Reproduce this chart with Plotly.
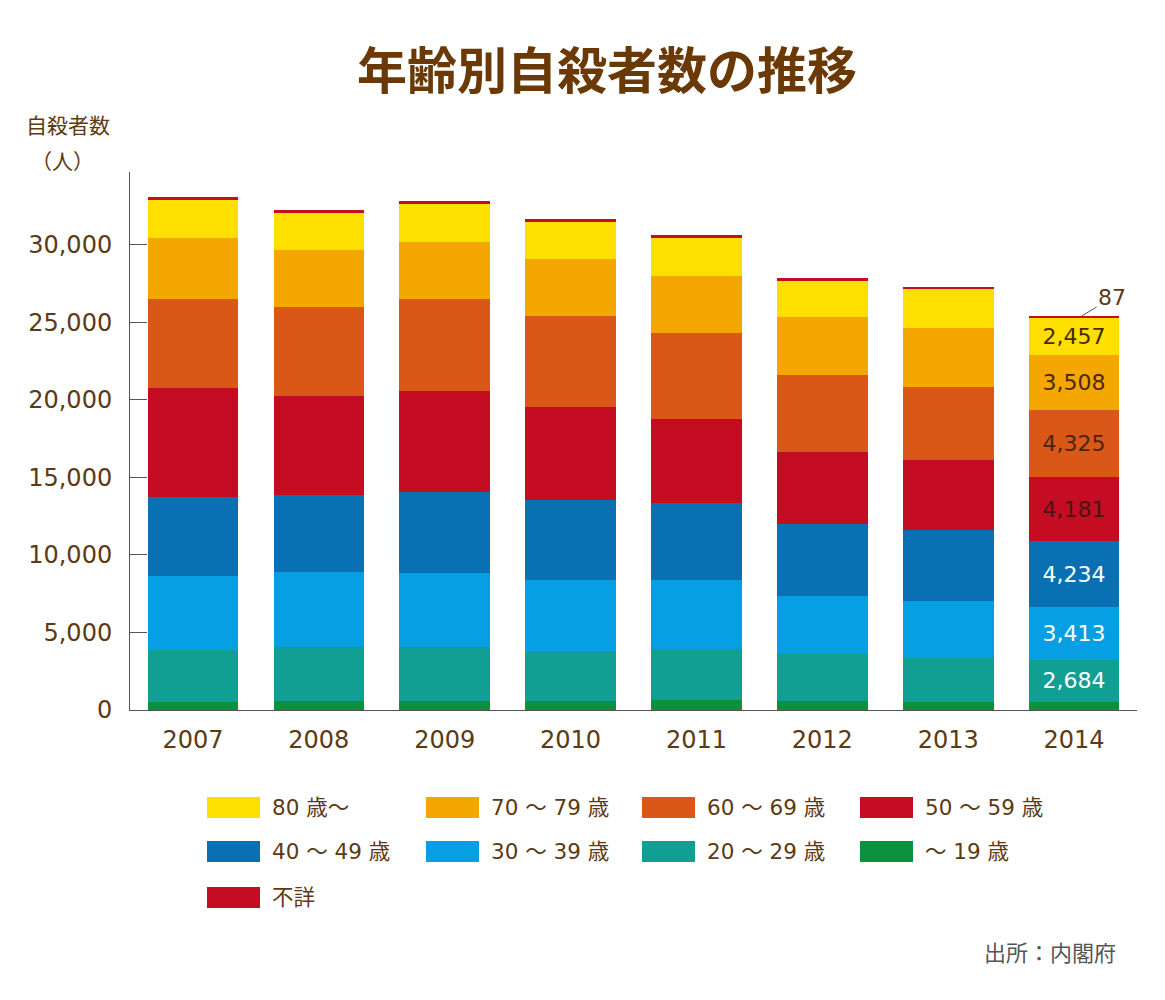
import plotly.graph_objects as go

years = ["2007", "2008", "2009", "2010", "2011", "2012", "2013", "2014"]

age_under19 = [548, 611, 565, 552, 622, 587, 547, 538]
age_20s = [3309, 3438, 3470, 3240, 3304, 3000, 2801, 2684]
age_30s = [4767, 4850, 4794, 4596, 4455, 3781, 3705, 3413]
age_40s = [5096, 4970, 5261, 5165, 4985, 4616, 4589, 4234]
age_50s = [7046, 6363, 6491, 5959, 5375, 4668, 4484, 4181]
age_60s = [5735, 5735, 5958, 5908, 5547, 4976, 4716, 4325]
age_70s = [3973, 3697, 3673, 3685, 3677, 3742, 3785, 3508]
age_80plus = [2422, 2361, 2411, 2385, 2451, 2323, 2580, 2457]
age_unknown = [197, 224, 222, 200, 235, 165, 76, 87]

# (name, values, colour, label colour, show 2014 label inside)
series = [
    ("～ 19 歳", age_under19, "#0B913E", "white", False),
    ("20 ～ 29 歳", age_20s, "#119E93", "white", True),
    ("30 ～ 39 歳", age_30s, "#079FE4", "white", True),
    ("40 ～ 49 歳", age_40s, "#0A70B4", "white", True),
    ("50 ～ 59 歳", age_50s, "#C40D22", "#4a1410", True),
    ("60 ～ 69 歳", age_60s, "#D95818", "#4a2410", True),
    ("70 ～ 79 歳", age_70s, "#F4A700", "#4a2a0a", True),
    ("80 歳～", age_80plus, "#FEDF00", "#4a2a0a", True),
    ("不詳", age_unknown, "#C40D22", "#4a1410", False),
]

legend_order = ["80 歳～", "70 ～ 79 歳", "60 ～ 69 歳", "50 ～ 59 歳",
                "40 ～ 49 歳", "30 ～ 39 歳", "20 ～ 29 歳", "～ 19 歳", "不詳"]

BROWN = "#5C3A14"
NUMFONT = "DejaVu Sans, Noto Sans CJK JP"
JPFONT = "Noto Sans CJK JP, DejaVu Sans"

OFF = 8  # page body margin
W, H = 1165 - OFF, 1000 - OFF
L, T = 130 - OFF, 172 - OFF
pw, ph = 1007, 538
R, B = W - L - pw, H - T - ph


def px(x):
    return (x - OFF - L) / pw


def py(y):
    return (T + ph - (y - OFF)) / ph


fig = go.Figure()
for name, vals, color, tcolor, show_lbl in series:
    labels = [""] * len(vals)
    if show_lbl:
        labels[-1] = f"{vals[-1]:,}"
    fig.add_trace(go.Bar(
        x=years, y=vals, name=name, marker=dict(color=color, line=dict(width=0)),
        text=labels, textposition="inside", insidetextanchor="middle",
        textangle=0, constraintext="none",
        textfont=dict(color=tcolor, size=22, family=NUMFONT),
        showlegend=False, hoverinfo="skip",
    ))

total_2014 = sum(s[1][-1] for s in series)
annotations = [
    dict(text="年齢別自殺者数の推移", x=px(607), y=py(67), xref="paper", yref="paper",
         showarrow=False,
         font=dict(size=50, color="#6A3906", family=JPFONT + ", sans-serif", weight="bold"),
         xanchor="center", yanchor="middle"),
    dict(text="自殺者数", x=px(68), y=py(124), xref="paper", yref="paper",
         showarrow=False, font=dict(size=21, color=BROWN, family=JPFONT),
         xanchor="center", yanchor="middle"),
    dict(text="（人）", x=px(62), y=py(160), xref="paper", yref="paper",
         showarrow=False, font=dict(size=21, color=BROWN, family=JPFONT),
         xanchor="center", yanchor="middle"),
    dict(text="出所：内閣府", x=px(1118), y=py(951), xref="paper", yref="paper",
         showarrow=False, font=dict(size=22, color="#555555", family=JPFONT),
         xanchor="right", yanchor="middle"),
    dict(text=f"{age_unknown[-1]}", x=len(years) - 1, y=total_2014, xref="x", yref="y",
         xshift=8, showarrow=True, arrowhead=0, arrowwidth=1, arrowcolor="#555555",
         ax=30, ay=-18, standoff=0,
         font=dict(size=22, color=BROWN, family=NUMFONT)),
]

shapes = []
col_x = [207, 426, 642, 860]
row_y = [807.5, 851.5, 897.5]
color_map = {s[0]: s[2] for s in series}
for i, name in enumerate(legend_order):
    cx = col_x[i % 4]
    cy = row_y[i // 4]
    shapes.append(dict(type="rect", xref="paper", yref="paper",
                       x0=px(cx), x1=px(cx + 53), y0=py(cy - 10.5), y1=py(cy + 10.5),
                       fillcolor=color_map[name], line=dict(width=0)))
    annotations.append(dict(text=name, x=px(cx + 63), y=py(cy), xref="paper", yref="paper",
                            showarrow=False, xanchor="left", yanchor="middle",
                            font=dict(size=21.5, color=BROWN, family=NUMFONT)))

fig.update_layout(
    width=W, height=H,
    margin=dict(l=L, r=R, t=T, b=B, pad=0),
    barmode="stack", bargap=0.28,
    plot_bgcolor="white", paper_bgcolor="white",
    annotations=annotations, shapes=shapes,
)
fig.update_yaxes(
    range=[0, 34700], dtick=5000, tickformat=",", showgrid=False, zeroline=False,
    showline=True, linecolor="#555555", linewidth=1,
    ticks="inside", ticklen=17, tickcolor="#555555",
    tickfont=dict(size=24, color=BROWN, family=NUMFONT), ticklabelstandoff=12,
)
fig.update_xaxes(
    type="category", range=[-0.5, len(years) - 0.5], autorange=False,
    showgrid=False, showline=True, linecolor="#555555", linewidth=1, ticks="",
    tickfont=dict(size=24, color=BROWN, family=NUMFONT), ticklabelstandoff=8,
)

fig.write_html("out.html")
